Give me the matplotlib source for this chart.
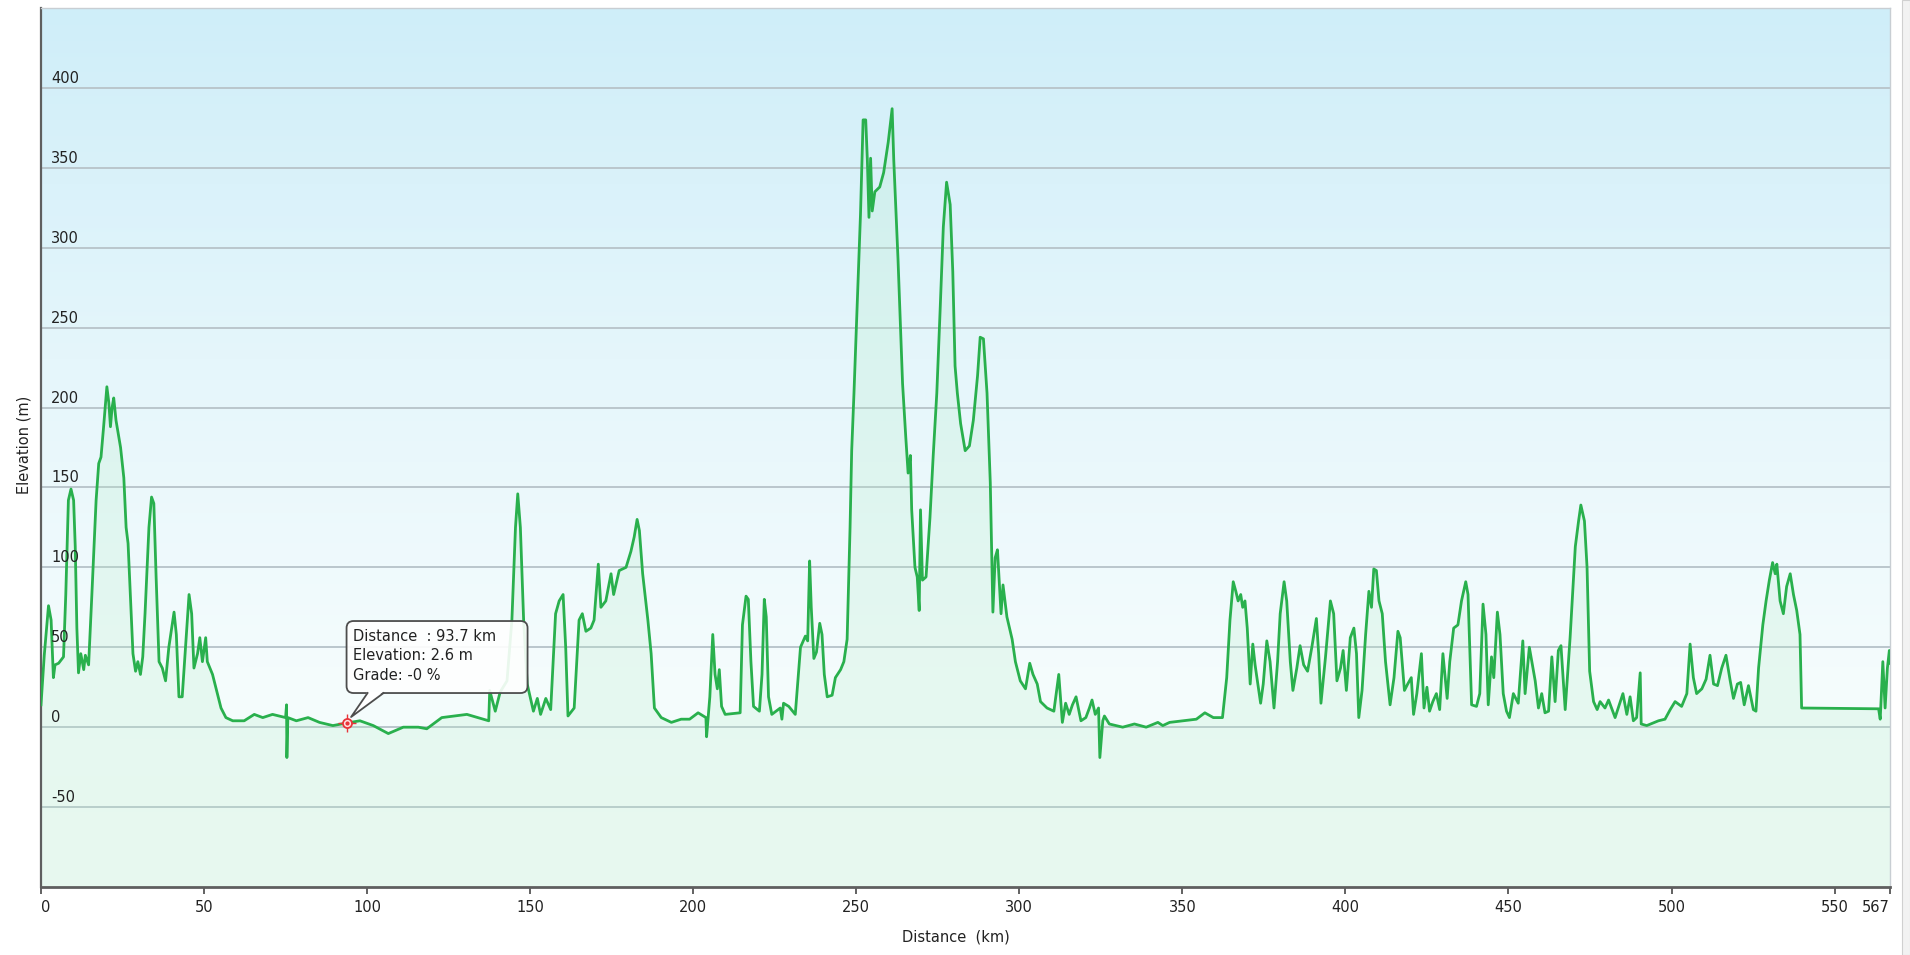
import numpy as np
import matplotlib
matplotlib.use("Agg")
import matplotlib.pyplot as plt
import matplotlib.transforms as mtransforms
from matplotlib.patches import FancyBboxPatch, Polygon, Rectangle
from matplotlib.lines import Line2D
from matplotlib.colors import to_rgb

# elevation profile (km, m)
dist_km = [
    0.0, 1.0, 2.3, 3.1, 3.8, 4.3, 5.4, 6.9, 7.6, 8.4,
    9.2, 10.0, 10.5, 11.0, 11.5, 12.2, 13.1, 13.6, 14.6, 15.6,
    16.9, 17.7, 18.4, 19.2, 20.2, 20.8, 21.3, 21.8, 22.3, 23.0,
    24.4, 25.4, 26.1, 26.7, 27.4, 28.2, 29.0, 29.7, 30.5, 31.2,
    31.9, 33.1, 33.9, 34.6, 35.3, 36.2, 37.2, 38.2, 39.2, 40.8,
    41.5, 42.3, 43.3, 44.4, 45.4, 46.2, 46.9, 48.0, 48.7, 49.5,
    50.5, 51.0, 52.6, 53.6, 55.2, 56.7, 58.8, 62.3, 65.4, 68.0,
    71.0, 75.0, 75.3, 75.4, 75.7, 78.3, 81.9, 85.4, 89.5, 93.7,
    97.8, 101.9, 106.5, 111.1, 115.7, 118.3, 122.9, 130.6, 137.3, 137.6,
    139.3, 140.8, 142.9, 144.4, 145.5, 146.2, 147.0, 148.0, 149.1, 150.1,
    151.0, 152.2, 153.2, 154.8, 156.3, 157.8, 158.9, 160.1, 160.9, 161.6,
    163.5, 165.0, 166.0, 167.1, 168.6, 169.6, 170.9, 171.7, 173.2, 174.8,
    175.6, 177.3, 179.4, 180.9, 181.9, 182.8, 183.5, 184.5, 186.1, 187.1,
    188.1, 190.2, 193.3, 196.3, 198.9, 201.5, 203.9, 204.1, 205.1, 206.0,
    206.7, 207.4, 208.0, 208.7, 209.8, 214.4, 215.1, 216.2, 216.9, 217.7,
    218.5, 220.3, 221.1, 221.8, 222.4, 223.1, 224.1, 226.7, 227.2, 227.7,
    229.3, 231.3, 232.9, 234.4, 235.1, 235.7, 236.2, 237.0, 237.8, 238.8,
    239.5, 240.2, 241.1, 242.6, 243.6, 245.2, 246.2, 247.2, 248.1, 248.6,
    249.3, 250.3, 251.3, 252.1, 252.9, 253.4, 253.9, 254.4, 254.9, 255.7,
    257.2, 258.4, 259.8, 261.0, 261.5, 262.3, 262.8, 263.4, 264.2, 265.2,
    265.9, 266.6, 267.0, 268.0, 268.7, 269.3, 269.7, 270.3, 271.4, 272.6,
    273.6, 274.7, 275.7, 276.7, 277.7, 278.8, 279.6, 280.3, 281.0, 282.0,
    283.4, 284.7, 285.9, 287.2, 288.0, 289.0, 290.1, 291.1, 291.9, 292.6,
    293.3, 294.4, 295.0, 296.2, 297.8, 298.8, 300.3, 301.9, 303.2, 304.2,
    305.5, 306.5, 308.5, 310.6, 312.1, 313.2, 314.2, 315.3, 316.3, 317.4,
    318.9, 320.4, 321.5, 322.3, 323.3, 324.3, 324.7, 325.6, 326.1, 327.6,
    331.7, 335.3, 338.9, 342.5, 344.0, 346.1, 350.2, 354.3, 356.9, 359.5,
    362.3, 363.6, 364.6, 365.6, 366.4, 367.1, 367.9, 368.5, 369.2, 369.9,
    370.8, 371.6, 372.3, 373.0, 374.0, 374.8, 375.9, 376.9, 378.1, 379.2,
    380.0, 381.2, 382.0, 383.1, 383.9, 385.1, 386.1, 387.2, 388.4, 389.7,
    391.1, 391.8, 392.5, 393.9, 395.4, 396.4, 397.4, 398.5, 399.3, 400.3,
    401.5, 402.6, 403.4, 404.1, 405.1, 406.2, 407.2, 408.0, 408.7, 409.5,
    410.3, 411.3, 412.3, 413.7, 414.9, 416.1, 416.8, 418.1, 419.1, 420.2,
    420.9, 421.9, 423.3, 424.1, 425.0, 425.8, 426.8, 427.9, 428.9, 429.9,
    431.2, 432.0, 433.2, 434.5, 435.6, 436.9, 437.6, 438.7, 440.2, 441.2,
    442.2, 443.1, 443.8, 444.8, 445.5, 446.6, 447.4, 448.4, 449.4, 450.3,
    451.5, 453.0, 454.4, 455.1, 456.4, 458.2, 459.2, 460.2, 461.2, 462.3,
    463.3, 464.3, 465.3, 466.1, 467.4, 468.9, 470.5, 471.5, 472.2, 473.3,
    474.1, 474.9, 476.1, 477.2, 478.1, 479.6, 480.7, 482.7, 485.1, 486.3,
    487.3, 488.3, 489.3, 490.4, 490.7, 492.4, 496.0, 498.0, 499.6, 501.1,
    503.1, 504.7, 505.7, 506.7, 507.7, 509.3, 510.6, 511.8, 512.9, 514.1,
    515.4, 516.7, 518.0, 519.0, 520.2, 521.2, 522.3, 523.6, 525.1, 525.9,
    526.7, 528.0, 529.0, 530.0, 531.0, 531.8, 532.3, 533.3, 534.3, 535.3,
    536.4, 537.4, 538.4, 539.4, 539.9, 563.5, 564.0, 564.8, 565.5, 566.2,
    566.8, 567.0,
]
elev_m = [
    14, 45, 76, 67, 31, 39, 40, 44, 83, 142,
    149, 142, 113, 62, 34, 46, 36, 45, 39, 83,
    142, 165, 169, 188, 213, 203, 188, 200, 206, 192,
    175, 156, 125, 115, 83, 46, 35, 41, 33, 44,
    71, 125, 144, 140, 94, 41, 37, 29, 50, 72,
    58, 19, 19, 52, 83, 71, 37, 46, 56, 41,
    56, 41, 33, 25, 12, 6, 4, 4, 8, 6,
    8, 6, 14, -19, 6, 4, 6, 3, 1, 2.6,
    4, 1, -4, 0, 0, -1, 6, 8, 4, 23,
    10, 22, 29, 67, 125, 146, 125, 67, 27, 18,
    10, 18, 8, 18, 11, 71, 79, 83, 50, 7,
    12, 67, 71, 60, 62, 67, 102, 75, 79, 96,
    83, 98, 100, 110, 119, 130, 123, 96, 67, 46,
    12, 6, 3, 5, 5, 9, 6, -6, 19, 58,
    33, 24, 36, 13, 8, 9, 64, 82, 80, 41,
    13, 10, 33, 80, 69, 19, 8, 12, 5, 15,
    13, 8, 50, 57, 54, 104, 75, 43, 47, 65,
    58, 33, 19, 20, 31, 36, 41, 55, 125, 173,
    209, 265, 321, 380, 380, 355, 319, 356, 323, 335,
    338, 347, 366, 387, 355, 316, 293, 260, 215, 181,
    159, 170, 136, 100, 94, 73, 136, 92, 94, 131,
    170, 209, 260, 313, 341, 327, 285, 226, 209, 190,
    173, 176, 192, 220, 244, 243, 209, 153, 72, 106,
    111, 71, 89, 69, 55, 41, 29, 24, 40, 33,
    27, 16, 12, 10, 33, 3, 15, 8, 14, 19,
    4, 6, 12, 17, 8, 12, -19, 4, 7, 2,
    0, 2, 0, 3, 1, 3, 4, 5, 9, 6,
    6, 31, 67, 91, 85, 79, 83, 75, 79, 62,
    27, 52, 39, 29, 15, 27, 54, 41, 12, 41,
    71, 91, 79, 41, 23, 37, 51, 39, 35, 50,
    68, 46, 15, 44, 79, 71, 29, 37, 48, 23,
    56, 62, 46, 6, 23, 58, 85, 75, 99, 98,
    79, 71, 41, 14, 31, 60, 56, 23, 27, 31,
    8, 21, 46, 12, 25, 10, 16, 21, 11, 46,
    18, 41, 62, 64, 79, 91, 83, 14, 13, 21,
    77, 58, 14, 44, 31, 72, 58, 21, 10, 6,
    21, 15, 54, 21, 50, 29, 12, 21, 9, 10,
    44, 16, 48, 51, 11, 56, 113, 129, 139, 129,
    100, 35, 16, 11, 16, 12, 17, 6, 21, 8,
    19, 4, 6, 34, 2, 1, 4, 5, 11, 16,
    13, 21, 52, 31, 21, 24, 30, 45, 27, 26,
    37, 45, 29, 18, 27, 28, 14, 26, 11, 10,
    37, 64, 79, 92, 103, 96, 102, 79, 71, 88,
    96, 83, 73, 58, 12, 11.5, 5, 41, 12, 37,
    48, 40,
]

y_ticks = [-50, 0, 50, 100, 150, 200, 250, 300, 350, 400]
x_ticks = [0, 50, 100, 150, 200, 250, 300, 350, 400, 450, 500, 550, 567]
x_tick_labels = [str(t) for t in x_ticks]

# hovered point shown in the tooltip
marker_km = 93.7
marker_elev = 2.6
marker_grade = "-0"

W, H = 1910, 955
fig = plt.figure(figsize=(W / 100, H / 100), dpi=100)
fig.patch.set_facecolor("white")
ax = fig.add_axes([41 / W, 68 / H, 1849 / W, 879 / H])

# sky-like vertical gradient behind the plot
stops = [(0.0, "#f7fdfb"), (0.25, "#f4fcfd"), (0.6, "#e5f6fb"), (1.0, "#cfeef9")]
pos = np.linspace(0, 1, 256)
cols = np.array([to_rgb(c) for _, c in stops])
sp = [s for s, _ in stops]
grad = np.stack([np.interp(pos, sp, cols[:, i]) for i in range(3)], axis=-1)[:, None, :]
ax.imshow(grad, extent=[0, 1, 0, 1], transform=ax.transAxes, origin="lower",
          aspect="auto", zorder=0, interpolation="bilinear")

ax.fill_between(dist_km, elev_m, -100, color="#b4ecc6", alpha=0.22, lw=0, zorder=1)
ax.plot(dist_km, elev_m, color="#29b04d", lw=2.0, zorder=3)

ax.set_xlim(0, 567)
ax.set_ylim(-100, 450)

ax.set_axisbelow(True)
ax.set_yticks(y_ticks)
ax.yaxis.grid(True, color="#bac6cc", lw=1.4)
ax.tick_params(axis="y", length=0, labelleft=False)

ax.set_xticks(x_ticks, x_tick_labels)
ax.tick_params(axis="x", direction="out", length=5, width=1.3, color="#555555",
               labelsize=10.5, labelcolor="#222222", pad=4)
xl = ax.get_xticklabels()
xl[0].set_horizontalalignment("left")
xl[-1].set_horizontalalignment("right")

# y labels sit inside the plot, just above their gridline
ylab_tr = (mtransforms.blended_transform_factory(ax.transAxes, ax.transData)
           + mtransforms.ScaledTranslation(0.10, 0.095, fig.dpi_scale_trans))
for v in y_ticks:
    ax.text(0, v, str(v), transform=ylab_tr, ha="left", va="center",
            fontsize=10.5, color="#222222", zorder=5)

for side in ["top", "right"]:
    ax.spines[side].set_color("#c8ced3")
    ax.spines[side].set_linewidth(1.0)
ax.spines["left"].set_color("#5f5f5f")
ax.spines["left"].set_linewidth(1.6)
ax.spines["bottom"].set_color("#5f5f5f")
ax.spines["bottom"].set_linewidth(2.0)

fig.text(956 / W, 1 - 937 / H, "Distance  (km)", ha="center", va="center",
         fontsize=10.5, color="#222222")
fig.text(24 / W, 1 - 445 / H, "Elevation (m)", rotation=90, ha="center",
         va="center", fontsize=10.5, color="#222222")

# scrollbar strip at the right edge
fig.patches.append(Rectangle((1902 / W, 0), 8 / W, 1, transform=fig.transFigure,
                             facecolor="#f2f2f2", edgecolor="#d0d0d0", lw=0.8))

# tooltip bubble anchored to the hovered point
ident = mtransforms.IdentityTransform()
mx, my = ax.transData.transform((marker_km, marker_elev))
box = FancyBboxPatch((mx, my + 30), 181, 72, boxstyle="round,pad=0,rounding_size=7",
                     transform=ident, facecolor=(1, 1, 1, 0.9), edgecolor="#4d4d4d",
                     lw=1.3, zorder=10)
fig.add_artist(box)
fig.add_artist(Polygon([(mx + 21, my + 31.5), (mx + 4.5, my + 6), (mx + 37, my + 31.5)],
                       closed=True, transform=ident, facecolor="white",
                       edgecolor="none", zorder=11))
fig.add_artist(Line2D([mx + 21, mx + 4.5, mx + 37], [my + 30, my + 6, my + 30],
                      transform=ident, color="#4d4d4d", lw=1.3, zorder=12))
tip_lines = [f"Distance  : {marker_km} km", f"Elevation: {marker_elev} m",
             f"Grade: {marker_grade} %"]
for i, s in enumerate(tip_lines):
    fig.text(mx + 6, my + 87 - 19.5 * i, s, transform=ident, ha="left", va="center",
             fontsize=10.5, color="#222222", zorder=13)

ax.plot(marker_km, marker_elev, marker="+", ms=13, mew=1.0, color="#e8343a", zorder=14)
ax.plot(marker_km, marker_elev, marker="o", ms=6.5, mfc="#ffe4e4", mec="#e8343a",
        mew=1.3, zorder=15)
ax.plot(marker_km, marker_elev, marker="o", ms=2, color="#e8343a", zorder=16)

fig.savefig("out.png", dpi=100)
